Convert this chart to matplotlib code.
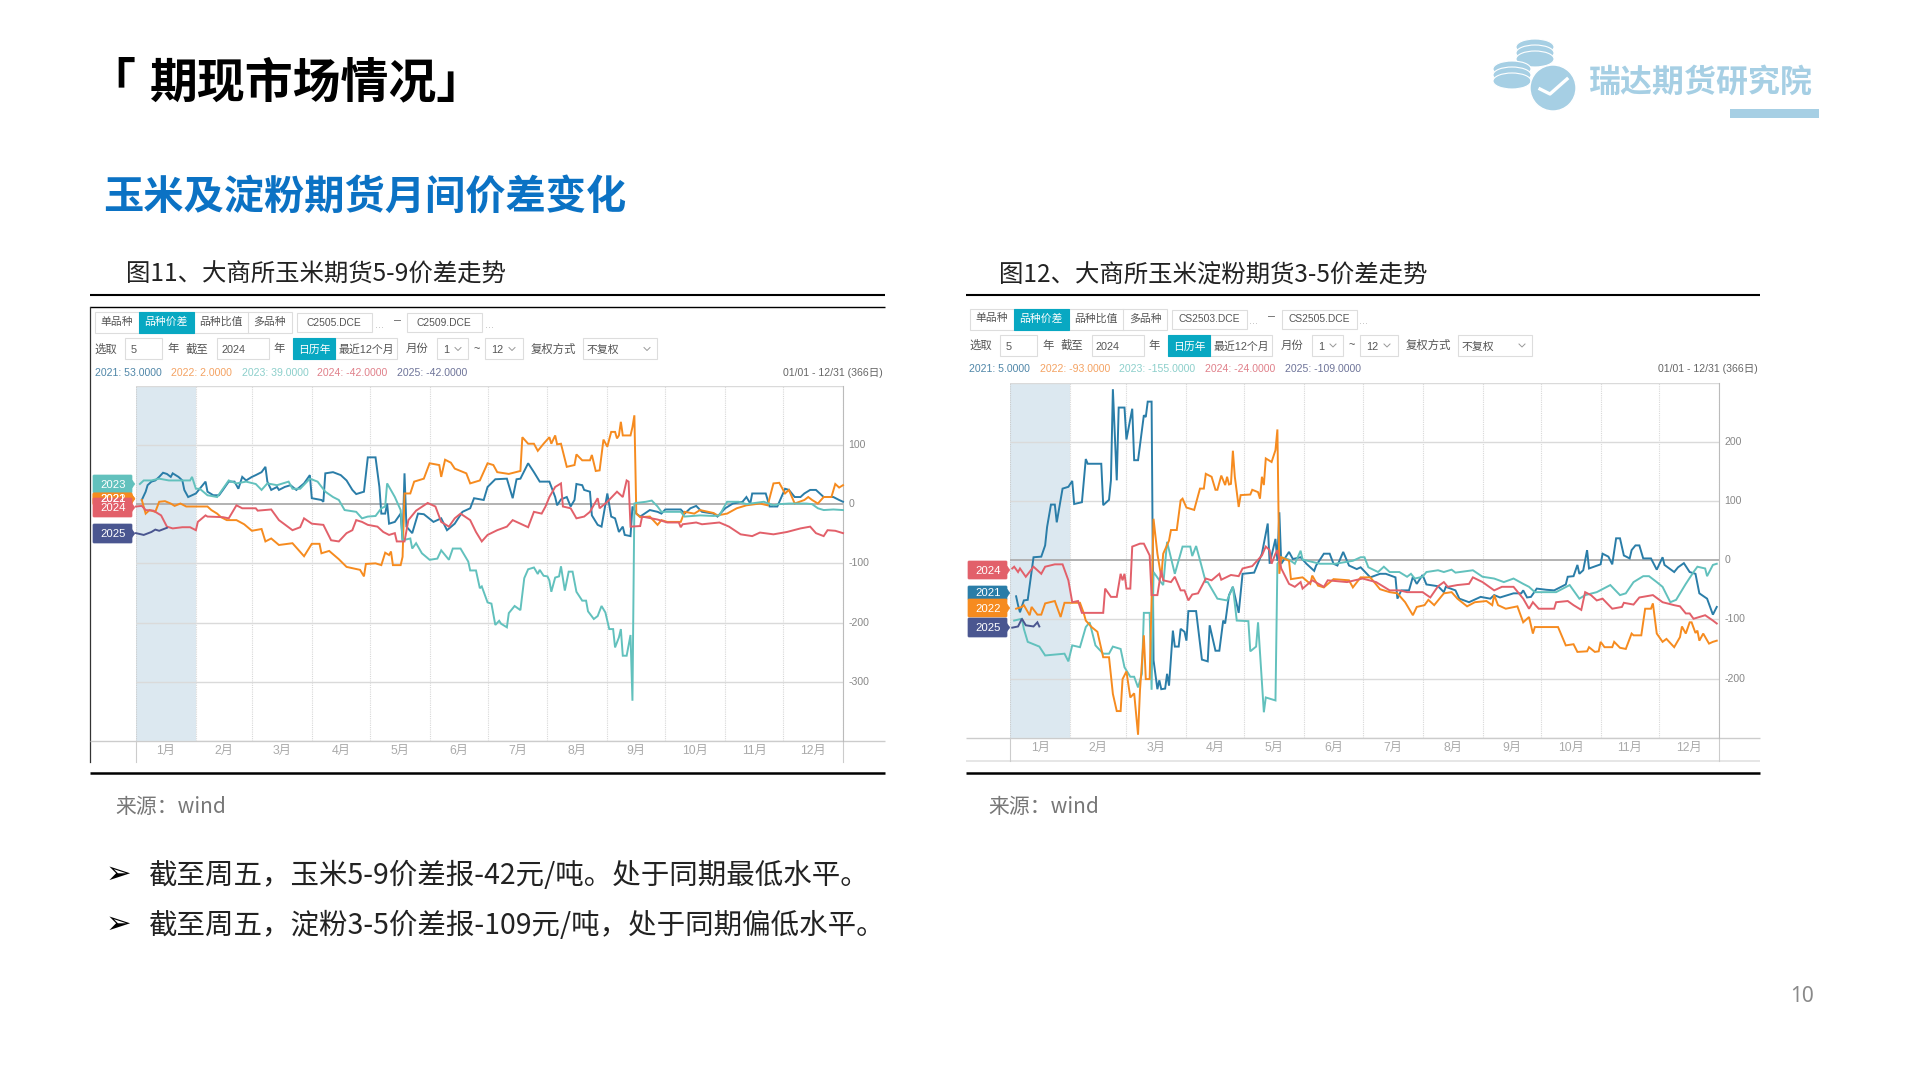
import matplotlib
matplotlib.use('Agg')
import matplotlib.pyplot as plt
from matplotlib.patches import Rectangle, FancyBboxPatch, Ellipse, Circle, Polygon

plt.rcParams['font.family'] = ['Noto Sans CJK SC', 'DejaVu Sans']
NARROW = ['Liberation Sans', 'Noto Sans CJK SC', 'DejaVu Sans']

BLUE = '#2A7DA8'
ORANGE = '#F68B1F'
TEAL = '#62C1BD'
RED = '#E2606A'
INDIGO = '#4A5690'
CYAN = '#08A8C2'

months = ['1月', '2月', '3月', '4月', '5月', '6月', '7月', '8月', '9月', '10月', '11月', '12月']
month_days = [31, 29, 31, 30, 31, 30, 31, 31, 30, 31, 30, 31]
corn_ticks = [100, 0, -100, -200, -300]
starch_ticks = [200, 100, 0, -100, -200]

# corn 5-9 spread, (day of year, yuan/ton)
corn_2021 = [(3,7),(5,21),(6,32),(8,38),(10,40),(12,46),(14,53),(16,51),(18,46),(19,52),(22,46),(24,40),(25,24),(27,12),
    (31,18),(33,26),(36,38),(37,21),(40,15),(43,15),(45,24),(48,38),(51,38),(53,26),(55,46),(57,40),(60,46),(62,49),
    (65,54),(67,63),(68,38),(70,24),(73,29),(74,24),(77,29),(80,32),(83,24),(87,35),(90,49),(91,10),(96,7),(97,4),
    (98,52),(102,54),(106,49),(109,40),(112,24),(114,17),(118,21),(120,79),(124,79),(126,29),(127,-16),(129,-16),
    (130,1),(131,-33),(134,-30),(137,-16),(138,-61),(139,52),(140,-38),(143,-49),(146,-16),(149,-17),(154,-30),
    (158,-24),(161,-44),(165,-33),(169,-13),(173,-7),(175,10),(180,7),(182,29),(186,42),(192,43),(195,10),(197,42),
    (199,43),(203,69),(206,54),(209,38),(214,38),(217,12),(218,-2),(220,8),(223,12),(225,-4),(227,7),(228,34),(231,32),
    (232,24),(235,21),(236,-19),(239,-35),(241,-38),(244,18),(246,-21),(248,-24),(250,-47),(252,-38),(253,-52),(256,-54),
    (257,-4),(259,-16),(261,-21),(266,-10),(270,-13),(272,-16),(274,-9),(282,-9),(284,-16),(287,-7),(290,-3),(293,-13),
    (299,-16),(301,-21),(305,-7),(309,1),(314,4),(316,12),(318,1),(319,18),(326,18),(328,-4),(332,-4),(336,26),(338,24),
    (341,12),(344,12),(346,18),(349,24),(352,24),(356,12),(361,12),(364,7),(366,4)]
corn_2022 = [(3,7),(5,-16),(7,-10),(10,-13),(12,4),(15,5),(18,1),(20,-3),(23,1),(26,-4),(37,-4),(39,-10),(42,-16),(44,-22),
    (47,-27),(52,-27),(56,-34),(60,-45),(65,-42),(67,-63),(70,-58),(74,-69),(81,-66),(87,-88),(91,-67),(95,-67),(96,-83),
    (100,-79),(105,-93),(109,-106),(116,-111),(118,-122),(119,-101),(124,-100),(127,-103),(129,-82),(131,-86),(132,-80),
    (133,-103),(137,-103),(138,-89),(139,18),(142,18),(144,38),(149,43),(152,69),(157,66),(158,46),(160,75),(163,70),
    (165,60),(171,52),(173,35),(178,40),(182,69),(185,66),(187,54),(193,51),(199,56),(200,113),(203,102),(206,102),
    (208,90),(211,102),(214,113),(215,102),(217,116),(218,101),(220,102),(223,63),(227,66),(228,84),(231,74),(235,74),
    (236,83),(238,56),(240,57),(242,109),(244,97),(246,122),(248,122),(249,111),(250,116),(251,139),(252,116),(256,116),
    (257,130),(258,150),(259,-16),(261,-22),(266,-21),(270,-35),(272,-27),(275,-30),(282,-30),(284,-13),(289,-16),
    (292,-10),(299,-15),(301,-19),(306,-16),(311,-7),(316,-2),(323,1),(327,-2),(330,35),(333,36),(336,18),(338,24),
    (341,1),(346,7),(348,12),(350,7),(353,1),(356,12),(360,12),(362,34),(364,28),(366,32)]
corn_2023 = [(2,34),(4,40),(8,40),(12,43),(17,40),(23,40),(28,40),(29,46),(31,26),(33,26),(37,15),(42,12),(45,26),(48,40),
    (52,35),(57,38),(62,34),(65,24),(68,35),(73,32),(79,38),(81,26),(85,26),(90,43),(94,38),(98,21),(102,12),(105,7),
    (108,-10),(114,-13),(117,-24),(120,-21),(124,-20),(127,-7),(129,-4),(130,35),(134,12),(137,-10),(138,-61),(142,-58),
    (143,-75),(145,-66),(148,-83),(152,-94),(156,-92),(158,-78),(162,-94),(164,-75),(168,-75),(172,-97),(173,-112),
    (176,-112),(178,-142),(179,-139),(182,-166),(184,-168),(186,-204),(188,-197),(189,-202),(192,-208),(193,-184),
    (196,-172),(199,-179),(201,-125),(203,-110),(206,-107),(208,-118),(209,-111),(211,-121),(213,-122),(214,-129),
    (215,-148),(217,-124),(219,-122),(220,-105),(222,-146),(224,-114),(226,-114),(228,-148),(231,-163),(233,-163),
    (234,-181),(237,-194),(239,-189),(241,-172),(243,-183),(245,-211),(247,-211),(248,-242),(250,-225),(251,-211),
    (252,-256),(254,-256),(256,-221),(257,-332),(258,1),(259,2),(264,4),(267,6),(270,-4),(272,-13),(282,-13),(284,-21),
    (292,-19),(299,-20),(302,-19),(306,4),(312,4),(316,0),(325,4),(330,-2),(333,0),(338,1),(347,1),(350,0),(353,-7),
    (356,-10),(361,-9),(366,-10)]
corn_2024 = [(0,-4),(3,-3),(5,-10),(9,-11),(13,-19),(16,-38),(19,-41),(24,-39),(28,-39),(31,-44),(32,-30),(36,-19),(37,-21),
    (45,-22),(48,-24),(52,-2),(55,-7),(62,-7),(63,-11),(70,-9),(74,-27),(81,-44),(85,-39),(87,-24),(91,-33),(97,-35),
    (101,-61),(105,-63),(109,-49),(112,-44),(114,-27),(117,-30),(120,-35),(125,-38),(128,-47),(131,-52),(134,-49),
    (135,-63),(139,-63),(141,-27),(145,-11),(151,2),(155,-4),(158,-30),(162,-38),(165,-24),(168,-16),(173,-27),(176,-47),
    (179,-63),(182,-52),(187,-44),(192,-38),(195,-27),(203,-39),(206,-13),(210,-16),(212,-4),(214,12),(217,29),(220,35),
    (221,-4),(225,-7),(228,-24),(232,-21),(235,-13),(239,10),(240,-7),(244,4),(249,21),(252,12),(254,40),(255,38),
    (256,-38),(261,-37),(262,-21),(270,-26),(275,-31),(281,-31),(282,-39),(283,-34),(290,-31),(293,-34),(302,-31),
    (307,-38),(313,-51),(319,-54),(323,-48),(330,-51),(337,-47),(344,-41),(349,-38),(352,-49),(356,-54),(358,-44),
    (362,-45),(366,-49)]
corn_2025 = [(0,-49),(4,-52),(8,-47),(10,-43),(12,-45),(16,-40)]

# corn starch 3-5 spread
starch_2021 = [(3,-61),(4,-76),(5,-88),(7,-68),(9,-67),(12,5),(16,6),(18,25),(19,56),(21,94),(23,94),(24,64),(27,121),(30,124),
    (32,134),(33,95),(37,98),(39,171),(40,163),(47,163),(48,93),(51,102),(52,135),(53,289),(55,135),(56,258),(59,258),
    (60,204),(63,256),(64,169),(66,169),(69,245),(70,242),(71,268),(73,268),(74,-169),(76,-218),(77,-203),(78,-218),
    (80,-217),(81,-192),(82,-212),(84,-119),(85,-146),(87,-146),(88,-116),(90,-121),(91,-136),(92,-86),(96,-86),
    (99,-168),(102,-171),(103,-110),(106,-153),(108,-153),(110,-102),(111,-107),(113,-59),(115,-45),(118,-89),(120,-23),
    (126,-21),(130,11),(133,62),(134,-6),(137,36),(138,-1),(139,81),(140,-6),(144,14),(146,2),(150,5),(153,-6),(157,-18),
    (158,-9),(162,11),(165,11),(167,-6),(169,-9),(172,14),(175,-9),(179,-15),(181,-12),(186,-29),(191,-23),(194,-23),
    (199,-29),(200,-65),(202,-51),(206,-51),(208,-28),(210,-40),(213,-25),(215,-41),(221,-44),(224,-54),(225,-45),
    (230,-51),(232,-65),(237,-71),(243,-62),(248,-65),(250,-59),(253,-63),(260,-56),(264,-56),(265,-51),(267,-63),
    (269,-62),(272,-48),(277,-50),(281,-51),(287,-41),(288,-28),(291,-27),(293,-8),(294,-23),(296,-17),(298,17),(299,-14),
    (305,-7),(306,11),(309,6),(311,-7),(313,37),(315,37),(317,8),(320,3),(321,17),(323,25),(325,25),(327,3),(331,3),
    (334,-16),(337,5),(338,-8),(343,-20),(345,-12),(348,-5),(351,-20),(354,-23),(356,-56),(360,-65),(363,-92),(365,-79)]
starch_2022 = [(3,-82),(6,-79),(7,-76),(10,-93),(11,-79),(14,-92),(16,-92),(18,-73),(23,-69),(26,-96),(28,-72),(36,-72),(38,-90),
    (39,-102),(42,-113),(45,-121),(48,-164),(51,-164),(53,-226),(55,-255),(57,-255),(58,-201),(60,-188),(62,-232),
    (64,-225),(66,-295),(67,-220),(69,-127),(70,-201),(72,-201),(73,-68),(74,70),(76,11),(78,-29),(79,11),(82,33),(83,51),
    (86,51),(88,101),(89,104),(91,89),(95,85),(98,121),(100,121),(101,146),(104,141),(106,119),(107,119),(109,143),
    (111,127),(112,141),(113,128),(114,129),(115,185),(116,141),(118,90),(119,110),(124,111),(125,119),(128,115),
    (129,104),(130,141),(131,127),(132,172),(135,166),(137,186),(138,221),(139,-23),(140,5),(144,-1),(145,-32),(151,-29),
    (155,-40),(156,-26),(159,-43),(162,-46),(167,-32),(175,-34),(177,-46),(181,-29),(186,-29),(191,-49),(196,-54),
    (200,-56),(204,-71),(208,-93),(210,-79),(214,-76),(216,-67),(219,-76),(224,-56),(228,-54),(231,-65),(236,-78),
    (240,-71),(246,-69),(249,-76),(250,-59),(252,-76),(256,-82),(262,-78),(265,-105),(268,-96),(270,-124),(271,-113),
    (283,-113),(287,-144),(291,-142),(293,-155),(298,-154),(299,-147),(302,-155),(304,-154),(305,-138),(307,-147),
    (311,-147),(312,-138),(315,-148),(318,-150),(321,-124),(322,-127),(326,-127),(328,-82),(331,-82),(332,-73),(334,-124),
    (337,-138),(339,-133),(343,-147),(346,-130),(347,-112),(349,-124),(351,-105),(352,-105),(354,-123),(355,-119),
    (356,-136),(358,-124),(361,-141),(363,-138),(365,-136)]
starch_2023 = [(2,-102),(6,-99),(7,-116),(9,-138),(15,-146),(18,-161),(28,-158),(30,-171),(32,-144),(36,-147),(39,-113),(41,-105),
    (44,-144),(48,-158),(51,-158),(53,-146),(57,-150),(59,-181),(62,-197),(64,-197),(66,-215),(68,-192),(69,-89),(72,-89),
    (73,-219),(74,-20),(77,-34),(79,-42),(81,31),(85,-23),(89,23),(93,23),(94,7),(96,24),(98,0),(101,-37),(102,-37),
    (107,-65),(112,-68),(115,-45),(117,-102),(123,-103),(124,-154),(127,-146),(128,-105),(131,-257),(132,-232),(137,-237),
    (138,-6),(140,5),(144,1),(147,-6),(150,16),(151,1),(160,-6),(168,-6),(177,-1),(181,5),(183,5),(185,-12),(190,-20),
    (193,-11),(196,-20),(201,-20),(205,-28),(207,-23),(209,-31),(213,-28),(215,-20),(221,-17),(224,-20),(228,-16),
    (230,-21),(239,-17),(244,-28),(250,-31),(255,-37),(260,-31),(265,-40),(268,-45),(271,-54),(282,-54),(289,-42),
    (294,-65),(297,-59),(303,-54),(310,-42),(315,-59),(318,-56),(322,-37),(327,-27),(330,-27),(334,-37),(337,-45),
    (341,-71),(344,-67),(349,-40),(353,-20),(355,-11),(359,-14),(360,-27),(363,-8),(365,-6)]
starch_2024 = [(1,-14),(2,-11),(4,-20),(5,-14),(8,-28),(12,-11),(16,-23),(18,-11),(23,-7),(27,-7),(30,-34),(32,-71),(35,-69),
    (37,-89),(48,-89),(49,-48),(52,-62),(55,-62),(57,-23),(58,-34),(59,-23),(60,-48),(62,-48),(63,23),(67,28),(69,28),
    (72,8),(73,-59),(76,-59),(78,-17),(79,-34),(83,-37),(85,-28),(88,-51),(90,-51),(92,-68),(94,-58),(97,-56),(101,-31),
    (104,-34),(108,-23),(109,-33),(114,-25),(118,-27),(120,-14),(125,-10),(130,8),(132,23),(134,17),(135,-6),(137,11),
    (138,17),(140,-14),(144,-40),(147,-45),(150,-37),(151,-48),(156,-34),(162,-45),(164,-34),(174,-37),(182,-31),
    (189,-37),(196,-51),(201,-51),(205,-54),(213,-54),(217,-63),(221,-44),(224,-37),(226,-45),(231,-42),(237,-40),
    (239,-29),(244,-37),(250,-51),(254,-45),(260,-45),(265,-65),(268,-82),(270,-71),(273,-82),(281,-82),(282,-71),
    (288,-69),(291,-76),(295,-84),(297,-54),(300,-59),(303,-68),(306,-65),(311,-82),(316,-79),(317,-72),(322,-75),
    (325,-63),(332,-59),(337,-71),(343,-76),(346,-78),(349,-90),(351,-90),(353,-99),(359,-93),(363,-102),(365,-107)]
starch_2025 = [(1,-114),(4,-112),(6,-99),(8,-110),(12,-112),(14,-105),(15,-112)]

corn_series = [(corn_2021, BLUE), (corn_2022, ORANGE), (corn_2023, TEAL), (corn_2024, RED), (corn_2025, INDIGO)]
starch_series = [(starch_2021, BLUE), (starch_2023, TEAL), (starch_2022, ORANGE), (starch_2024, RED), (starch_2025, INDIGO)]
corn_legend = ['2021: 53.0000', '2022: 2.0000', '2023: 39.0000', '2024: -42.0000', '2025: -42.0000']
starch_legend = ['2021: 5.0000', '2022: -93.0000', '2023: -155.0000', '2024: -24.0000', '2025: -109.0000']
legend_colors = ['#4F86A8', '#F4A262', '#8CCFCB', '#E0808A', '#6E7499']

fig = plt.figure(figsize=(19.2, 10.8), dpi=100, facecolor='white')
page = fig.add_axes([0, 0, 1, 1])
page.set_xlim(0, 1920)
page.set_ylim(1080, 0)
page.axis('off')


def rule(x0, x1, y, color='black', lw=1.5):
    page.plot([x0, x1], [y, y], color=color, lw=lw, solid_capstyle='butt')


def box(x0, y0, x1, y1, face='white', edge='#DDDDDD'):
    page.add_patch(Rectangle((x0, y0), x1 - x0, y1 - y0, facecolor=face, edgecolor=edge, lw=0.8))


def label(x, y, s, color='#555555', size=7.8, ha='center', family=None):
    page.text(x, y, s, color=color, fontsize=size, ha=ha, va='center', family=family or NARROW)


def chevron(x, y):
    page.plot([x - 3, x, x + 3], [y - 1.5, y + 1.5, y - 1.5], color='#999999', lw=0.7)


def toolbar(dx, dy, code_a, code_b, legend, legend_x, range_x):
    # tabs
    box(95 + dx, 312 + dy, 292 + dx, 333 + dy)
    box(139 + dx, 312 + dy, 194 + dx, 333 + dy, face=CYAN, edge=CYAN)
    page.plot([248 + dx, 248 + dx], [312 + dy, 333 + dy], color='#DDDDDD', lw=0.8)
    for x, s, c in [(117, '单品种', '#555555'), (166, '品种价差', 'white'), (221, '品种比值', '#555555'), (270, '多品种', '#555555')]:
        label(x + dx, 322 + dy, s, color=c)
    # contract boxes
    box(297 + dx, 313 + dy, 372 + dx, 332 + dy)
    box(407 + dx, 313 + dy, 482 + dx, 332 + dy)
    label(334 + dx, 323 + dy, code_a, size=7.4)
    label(444 + dx, 323 + dy, code_b, size=7.4)
    label(379 + dx, 325 + dy, '...', color='#BBBBBB')
    label(489 + dx, 325 + dy, '...', color='#BBBBBB')
    label(397 + dx, 321 + dy, '–', color='#666666', size=9)
    # second row
    for x0, x1 in [(125, 162), (217, 269), (335, 397), (437, 468), (485, 523), (583, 657)]:
        box(x0 + dx, 338 + dy, x1 + dx, 359 + dy)
    box(293 + dx, 338 + dy, 335 + dx, 359 + dy, face=CYAN, edge=CYAN)
    label(106 + dx, 349 + dy, '选取', size=8.2)
    label(131 + dx, 350 + dy, '5', ha='left')
    label(173 + dx, 349 + dy, '年', size=8.2)
    label(197 + dx, 349 + dy, '截至', size=8.2)
    label(233 + dx, 350 + dy, '2024')
    label(279 + dx, 349 + dy, '年', size=8.2)
    label(314 + dx, 350 + dy, '日历年', color='white')
    label(366 + dx, 350 + dy, '最近12个月')
    label(417 + dx, 349 + dy, '月份', size=8.2)
    label(446 + dx, 350 + dy, '1')
    label(477 + dx, 349 + dy, '~')
    label(497 + dx, 350 + dy, '12')
    label(553 + dx, 349 + dy, '复权方式', size=8.2)
    label(603 + dx, 350 + dy, '不复权')
    chevron(458 + dx, 349 + dy)
    chevron(512 + dx, 349 + dy)
    chevron(647 + dx, 349 + dy)
    # legend row
    for x, s, c in zip(legend_x, legend, legend_colors):
        label(x, 373 + dy, s, color=c, size=7.6, ha='left')
    label(range_x, 373 + dy, '01/01 - 12/31 (366日)', color='#666666', size=7.6, ha='right')


def tag(x0, y0, y1, tip, s, color, width=39):
    page.add_patch(FancyBboxPatch((x0 + 1, y0 + 1), width - 2, y1 - y0 - 2, boxstyle='round,pad=1', facecolor=color, edgecolor=color, lw=0.5))
    ym = (y0 + y1) / 2
    page.add_patch(Polygon([(x0 + width, ym - 4), (tip, ym), (x0 + width, ym + 4)], facecolor=color, edgecolor=color, lw=0.3))
    label(x0 + width / 2 + 1, ym + 0.5, s, color='white', size=8.2)


def chart(left, top, right, bottom, ymin, ymax, series, ticks):
    ax = fig.add_axes([left / 1920, 1 - bottom / 1080, (right - left) / 1920, (bottom - top) / 1080])
    ax.patch.set_alpha(0)
    total = sum(month_days)
    ax.set_xlim(0, total)
    ax.set_ylim(ymin, ymax)
    ax.axvspan(0, month_days[0], color='#DCE8F0', lw=0, zorder=0)
    edges = [sum(month_days[:i]) for i in range(1, 13)]
    for e in edges:
        ax.axvline(e, color='#D8D8D8', lw=0.8, ls=(0, (1, 1)), zorder=1)
    ax.axvline(0, color='#CCCCCC', lw=0.8, ls=(0, (1, 1)), zorder=1)
    for v in range(ymin, ymax + 1, 100):
        if v == 0:
            ax.axhline(v, color='#ADADAD', lw=1.3, zorder=1)
        else:
            ax.axhline(v, color='#DADADA', lw=1.0, zorder=1)
    for points, color in series:
        days = [p[0] for p in points]
        vals = [p[1] for p in points]
        ax.plot(days, vals, color=color, lw=1.4, zorder=3, solid_joinstyle='miter', clip_on=False)
    ax.set_xticks([])
    ax.set_yticks([])
    for name, spine in ax.spines.items():
        spine.set_visible(name == 'right')
    ax.spines['right'].set_color('#BBBBBB')
    for v in ticks:
        ax.text(1.008, v, str(v), transform=ax.get_yaxis_transform(), color='#888888', fontsize=7.6, va='center', ha='left', family=NARROW)
    start = 0
    for m, d in zip(months, month_days):
        ax.text(start + d / 2, ymin - 17, m, color='#AAAAAA', fontsize=8.8, ha='center', va='center', family=NARROW, clip_on=False)
        start += d


# header
page.text(87, 83, '「', fontsize=34.5, fontweight='bold', color='black', ha='left', va='center')
page.text(150, 83, '期现市场情况」', fontsize=34.5, fontweight='bold', color='black', ha='left', va='center')
page.text(103, 198, '玉米及淀粉期货月间价差变化', fontsize=29, fontweight='bold', color='#0B72C4', ha='left', va='center')

# logo
LOGO = '#A6CFE4'
for cx, cy in [(1535, 47), (1535, 53), (1535, 59), (1512, 69), (1512, 75), (1512, 81)]:
    page.add_patch(Ellipse((cx, cy), 38, 16, facecolor=LOGO, edgecolor='white', lw=0.8))
page.add_patch(Circle((1553, 88), 23, facecolor=LOGO, edgecolor='white', lw=1.0))
page.plot([1540, 1550, 1567], [89, 94, 79], color='white', lw=2.4)
page.text(1701, 83, '瑞达期货研究院', fontsize=23, fontweight='bold', color=LOGO, ha='center', va='center')
page.add_patch(Rectangle((1730, 109), 89, 9, facecolor=LOGO, edgecolor='none'))

# captions and rules
page.text(126, 274.5, '图11、大商所玉米期货5-9价差走势', fontsize=17.6, color='#222222', ha='left', va='center')
page.text(999, 274.5, '图12、大商所玉米淀粉期货3-5价差走势', fontsize=17.6, color='#222222', ha='left', va='center')
rule(90, 885, 295)
rule(966, 1760, 295)
rule(90, 885, 307, lw=1.0)
rule(90, 885, 773, lw=1.8)
rule(966, 1760, 773, lw=1.8)
page.plot([90, 90], [307, 762], color='#333333', lw=0.9)

# left screenshot
toolbar(0, 0, 'C2505.DCE', 'C2509.DCE', corn_legend, [95, 171, 242, 317, 397], 883)
rule(90, 885, 741, color='#CCCCCC', lw=1.0)
for x in (136, 843):
    page.plot([x, x], [741, 762], color='#CCCCCC', lw=0.8)
tag(93, 475, 493, 135, '2023', TEAL)
tag(93, 493, 504, 135, '2022', ORANGE)
tag(93, 493, 505, 135, '2021', ORANGE)
tag(93, 498, 517, 135, '2024', RED)
tag(93, 524, 543, 135, '2025', INDIGO)
chart(136, 385.7, 843, 741, -400, 200, corn_series, corn_ticks)

# right screenshot
toolbar(875, -3.5, 'CS2503.DCE', 'CS2505.DCE', starch_legend, [969, 1040, 1119, 1205, 1285], 1758)
rule(966, 1760, 737.7, color='#CCCCCC', lw=1.0)
rule(966, 1760, 761, color='#E2E2E2', lw=1.2)
for x in (1010.3, 1718.7):
    page.plot([x, x], [737.7, 761], color='#CCCCCC', lw=0.8)
tag(968, 561, 579, 1010, '2024', RED)
tag(968, 586, 600, 1010, '2021', BLUE)
tag(968, 599, 617, 1010, '2022', ORANGE)
tag(968, 618, 637, 1010, '2025', INDIGO)
chart(1010.3, 382.7, 1718.7, 737.7, -300, 300, starch_series, starch_ticks)

# source notes and bullets
page.text(115, 807, '来源：wind', fontsize=15, color='#777777', ha='left', va='center')
page.text(988, 807, '来源：wind', fontsize=15, color='#777777', ha='left', va='center')
for y, s in [(876, '截至周五，玉米5-9价差报-42元/吨。处于同期最低水平。'),
             (926, '截至周五，淀粉3-5价差报-109元/吨，处于同期偏低水平。')]:
    page.text(106, y - 2, '➢', fontsize=22, color='black', ha='left', va='center', family='DejaVu Sans')
    page.text(149, y, s, fontsize=20.5, color='#222222', ha='left', va='center')
page.text(1802, 996, '10', fontsize=15, color='#8A8A8A', ha='center', va='center', family='Noto Sans')

fig.savefig('out.png', dpi=100)
